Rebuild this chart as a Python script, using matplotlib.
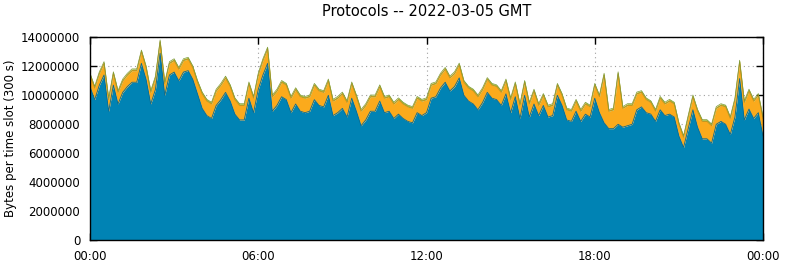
import numpy as np
import matplotlib
matplotlib.use("Agg")
import matplotlib.pyplot as plt
from matplotlib.ticker import FixedLocator, FuncFormatter

# Stack top (total bytes per 300 s slot, in millions), read every 10 minutes
total_m = [
    11.5, 10.6, 11.6, 12.3, 9.8, 11.6,
    10.3, 11.1, 11.5, 11.8, 11.8, 13.1,
    12.0, 10.3, 11.3, 13.8, 10.9, 12.3,
    12.5, 11.9, 12.5, 12.6, 12.0, 11.0,
    10.2, 9.7, 9.5, 10.4, 10.8, 11.3,
    10.7, 9.8, 9.4, 9.4, 10.9, 9.9,
    11.5, 12.5, 13.3, 10.0, 10.4, 11.0,
    10.8, 9.9, 10.5, 10.0, 9.9, 10.0,
    10.8, 10.4, 10.3, 11.1, 9.7, 9.9,
    10.2, 9.6, 10.9, 10.0, 9.0, 9.4,
    10.0, 10.0, 10.7, 9.9, 10.0, 9.5,
    9.8, 9.5, 9.3, 9.2, 9.9, 9.7,
    9.8, 10.8, 10.9, 11.5, 11.9, 11.3,
    11.6, 12.2, 11.0, 10.6, 10.4, 10.0,
    10.5, 11.2, 10.8, 10.7, 10.3, 11.1,
    9.8, 10.9, 9.4, 11.0, 9.5, 10.4,
    9.4, 10.1, 9.3, 9.4, 10.8, 10.1,
    9.1, 9.0, 9.7, 9.0, 9.5, 9.3,
    10.8, 10.0, 11.5, 9.0, 9.1, 11.6,
    9.2, 9.4, 9.4, 10.2, 10.3, 9.8,
    9.6, 9.0, 9.9, 9.5, 9.7, 9.5,
    8.1, 7.2, 8.6, 10.0, 9.0, 8.3,
    8.3, 8.0, 9.2, 9.4, 9.3, 8.5,
    9.8, 12.4, 9.6, 10.4, 9.7, 10.1,
    8.5,
]

# Orange layer thickness (millions)
orange_m = [
    0.8, 0.8, 0.8, 0.8, 0.8, 0.8,
    0.8, 0.8, 0.8, 0.8, 0.8, 0.8,
    0.8, 0.8, 0.8, 0.8, 0.8, 0.8,
    0.8, 0.8, 0.8, 0.8, 0.8, 0.8,
    1.0, 1.0, 1.0, 1.0, 1.0, 1.0,
    1.0, 1.0, 1.0, 1.0, 1.0, 1.0,
    1.0, 1.0, 1.0, 1.0, 1.0, 1.0,
    1.0, 1.0, 1.0, 1.0, 1.0, 1.0,
    1.0, 1.0, 1.0, 1.0, 1.0, 1.0,
    1.0, 1.0, 1.0, 1.0, 1.0, 1.0,
    1.0, 1.0, 1.0, 1.0, 1.0, 1.0,
    1.0, 1.0, 1.0, 1.0, 1.0, 1.0,
    0.9, 0.9, 0.9, 0.9, 0.9, 0.9,
    0.9, 0.9, 0.9, 0.9, 0.9, 0.9,
    0.9, 0.9, 0.9, 0.9, 0.9, 0.9,
    0.9, 0.9, 0.9, 0.9, 0.9, 0.9,
    0.7, 0.7, 0.7, 0.7, 0.7, 0.7,
    0.7, 0.7, 0.7, 0.7, 0.7, 0.7,
    0.9, 1.1, 3.3, 1.2, 1.3, 3.5,
    1.3, 1.4, 1.3, 1.1, 1.0, 0.9,
    0.8, 0.7, 0.8, 0.8, 0.9, 0.9,
    0.8, 0.7, 0.8, 0.9, 1.1, 1.2,
    1.2, 1.2, 1.1, 1.1, 1.2, 1.1,
    1.2, 1.15, 1.2, 1.25, 1.2, 1.2,
    1.2,
]

# Thin green layer on top (millions)
green_m = [0.12] * len(total_m)

slot_minutes = 10
x_tick_hours = [0, 6, 12, 18, 24]
x_tick_labels = ["00:00", "06:00", "12:00", "18:00", "00:00"]
y_ticks = [0, 2000000, 4000000, 6000000, 8000000, 10000000, 12000000, 14000000]

total = np.array(total_m) * 1e6
orange = np.array(orange_m) * 1e6
green = np.array(green_m) * 1e6
blue = total - orange - green
hours = np.arange(len(total)) * slot_minutes / 60.0

fig = plt.figure(figsize=(7.85, 2.64), dpi=100)
ax = fig.add_axes([90 / 785, 24 / 264, 673 / 785, 203 / 264])

c_blue, c_orange, c_green = "#0083b4", "#fbaa1c", "#9cbc3c"
b1 = blue
b2 = blue + orange
b3 = b2 + green
ax.fill_between(hours, 0, b1, color=c_blue, linewidth=0, zorder=2)
ax.fill_between(hours, b1, b2, color=c_orange, linewidth=0, zorder=2)
ax.fill_between(hours, b2, b3, color=c_green, linewidth=0, zorder=2)
ax.plot(hours, b1, color="#0a6a8e", linewidth=0.6, zorder=3)
ax.plot(hours, b2, color="#c8901a", linewidth=0.6, zorder=3)
ax.plot(hours, b3, color="#7f9a35", linewidth=0.5, zorder=3)

ax.set_xlim(0, 24)
ax.set_ylim(0, 14000000)
ax.xaxis.set_major_locator(FixedLocator(x_tick_hours))
ax.set_xticklabels(x_tick_labels)
ax.yaxis.set_major_locator(FixedLocator(y_ticks))
ax.yaxis.set_major_formatter(FuncFormatter(lambda v, p: "%d" % v))

ax.tick_params(direction="in", length=5, width=1, top=True, right=True,
               labelsize=8.5, pad=7, colors="black")
ax.grid(True, linestyle=(0, (1, 3)), color="#a0a0a0", linewidth=0.8, zorder=1)
ax.set_axisbelow(True)
for s in ax.spines.values():
    s.set_linewidth(1)
    s.set_zorder(5)

ax.set_ylabel("Bytes per time slot (300 s)", fontsize=8.5, labelpad=3)
ax.set_title("Protocols -- 2022-03-05 GMT", fontsize=10.5, pad=15)

fig.savefig("out.png", dpi=100)
